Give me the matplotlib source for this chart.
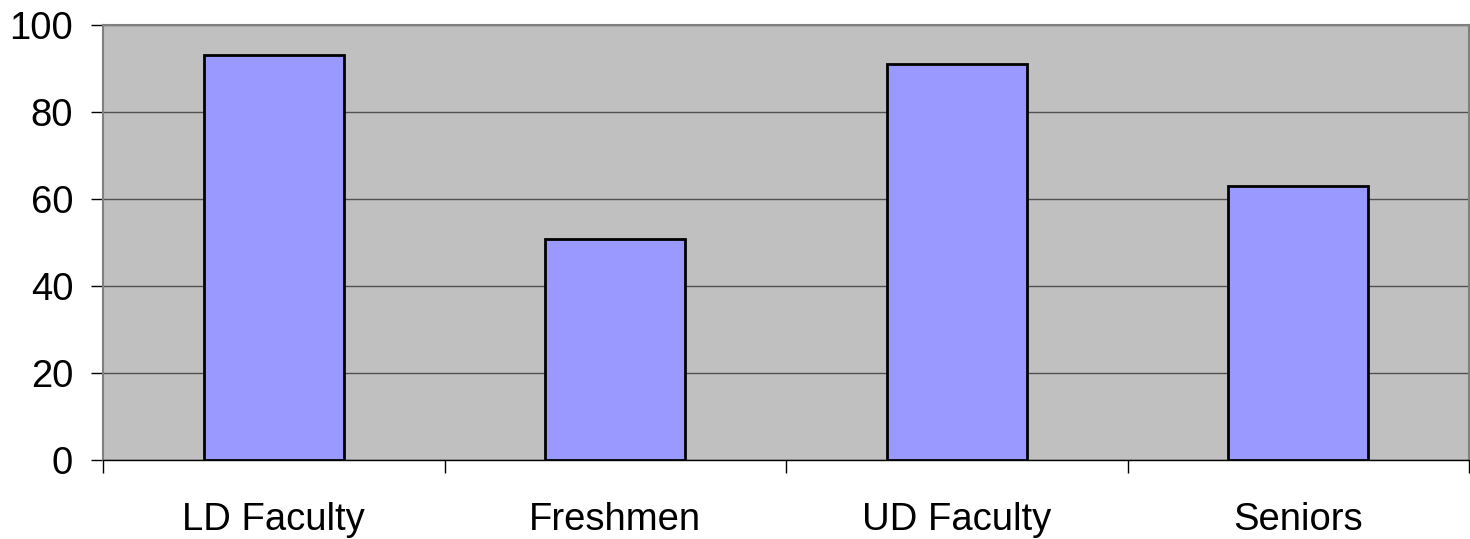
import matplotlib.pyplot as plt
import numpy as np

categories = ['LD Faculty', 'Freshmen', 'UD Faculty', 'Seniors']
values = [93, 50.8, 91, 63]
y_ticks = [0, 20, 40, 60, 80, 100]

plt.rcParams['font.family'] = ['Liberation Sans', 'DejaVu Sans']

fig = plt.figure(figsize=(14.7, 5.39), dpi=100)
ax = fig.add_axes([103 / 1470, 1 - 460 / 539, 1366 / 1470, 435 / 539])
ax.set_facecolor('#C0C0C0')

x_pos = np.arange(len(categories))
ax.bar(x_pos, values, width=0.41, color='#9999FF', edgecolor='black',
       linewidth=2.0, zorder=3)

ax.set_xlim(-0.5, len(categories) - 0.5)
ax.set_ylim(0, 100)
ax.set_yticks(y_ticks)
ax.set_xticks(x_pos)
ax.set_xticklabels(categories)
ax.set_xticks(np.arange(len(categories) + 1) - 0.5, minor=True)

ax.yaxis.grid(True, color='#505050', linewidth=1.0, zorder=1)
ax.set_axisbelow(True)

ax.tick_params(axis='x', which='major', length=0, pad=30, labelsize=27.5)
ax.tick_params(axis='x', which='minor', length=9, width=1, direction='out')
ax.tick_params(axis='y', length=9, width=1, pad=12.5, labelsize=27.5)

for side in ['top', 'right', 'left']:
    ax.spines[side].set_color('#808080')
    ax.spines[side].set_linewidth(1.5)
ax.spines['bottom'].set_color('black')
ax.spines['bottom'].set_linewidth(1.0)

plt.savefig('out.png', dpi=100)
